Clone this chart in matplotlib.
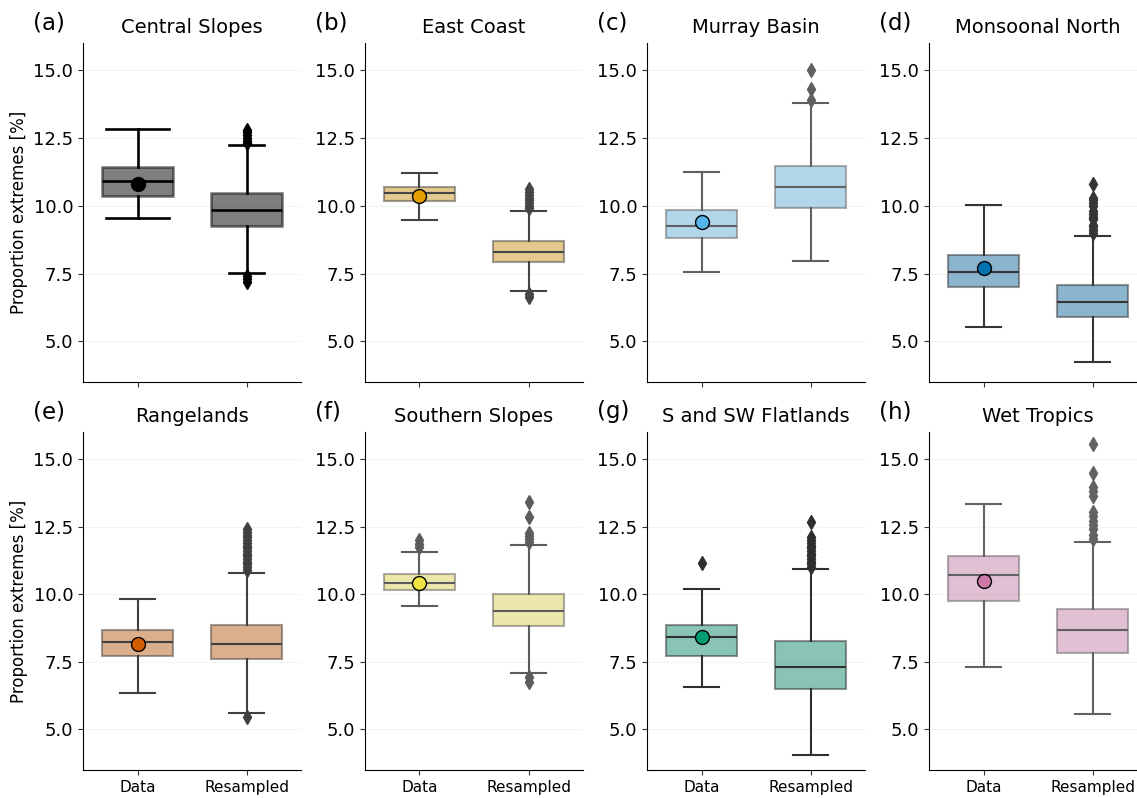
import colorsys
import matplotlib
matplotlib.use('Agg')
import matplotlib.pyplot as plt
import matplotlib.colors as mcolors

regions = ['Central Slopes', 'East Coast', 'Murray Basin', 'Monsoonal North',
           'Rangelands', 'Southern Slopes', 'S and SW Flatlands', 'Wet Tropics']
panel_labels = ['(a)', '(b)', '(c)', '(d)', '(e)', '(f)', '(g)', '(h)']
colors = ['#000000', '#E69F00', '#56B4E9', '#0072B2',
          '#D55E00', '#F0E442', '#009E73', '#CC79A7']
groups = ['Data', 'Resampled']

# box statistics: [Data, Resampled]
q1 = [[10.34, 9.24], [10.16, 7.92], [8.80, 9.93], [7.02, 5.89],
      [7.71, 7.59], [10.17, 8.83], [7.71, 6.51], [9.74, 7.81]]
median = [[10.90, 9.85], [10.47, 8.28], [9.25, 10.70], [7.57, 6.44],
          [8.24, 8.16], [10.43, 9.39], [8.43, 7.32], [10.72, 8.67]]
q3 = [[11.43, 10.47], [10.68, 8.69], [9.83, 11.47], [8.19, 7.09],
      [8.67, 8.87], [10.75, 10.02], [8.88, 8.28], [11.41, 9.45]]
whislo = [[9.56, 7.52], [9.47, 6.84], [7.55, 7.96], [5.52, 4.22],
          [6.36, 5.60], [9.57, 7.08], [6.57, 4.07], [7.32, 5.58]]
whishi = [[12.84, 12.23], [11.22, 9.80], [11.24, 13.80], [10.01, 8.90],
          [9.82, 10.80], [11.56, 11.81], [10.18, 10.92], [13.34, 11.94]]
fliers = [
    [[], [12.3, 12.4, 12.5, 12.6, 12.7, 12.8, 7.4, 7.3, 7.2]],
    [[], [9.9, 10.0, 10.1, 10.2, 10.3, 10.4, 10.5, 10.6, 6.75, 6.65]],
    [[], [13.9, 14.3, 15.0]],
    [[], [9.0, 9.1, 9.2, 9.3, 9.5, 9.6, 9.7, 9.8, 10.0, 10.1, 10.2, 10.3, 10.8]],
    [[], [10.9, 11.0, 11.1, 11.2, 11.3, 11.4, 11.5, 11.6, 11.7, 11.8, 11.9,
          12.0, 12.1, 12.2, 12.3, 12.4, 5.45]],
    [[11.75, 11.85, 12.0], [11.95, 12.05, 12.15, 12.25, 12.85, 13.4, 6.95, 6.75]],
    [[11.16], [11.0, 11.1, 11.2, 11.3, 11.4, 11.5, 11.6, 11.7, 11.8, 11.9,
                12.0, 12.1, 12.67]],
    [[], [12.05, 12.2, 12.4, 12.55, 12.7, 12.9, 13.05, 13.65, 13.8, 13.95,
          14.47, 15.55]],
]
data_mean = [10.81, 10.34, 9.40, 7.70, 8.16, 10.43, 8.43, 10.49]


def line_gray(color):
    r, g, b = mcolors.to_rgb(color)
    lum = colorsys.rgb_to_hls(r, g, b)[1] * 0.6
    return (lum, lum, lum)


def desaturate(color, prop=0.75):
    h, l, s = colorsys.rgb_to_hls(*mcolors.to_rgb(color))
    return colorsys.hls_to_rgb(h, l, s * prop)


W, H = 1137, 798
fig = plt.figure(figsize=(W / 100, H / 100), dpi=100)

lefts = [83, 365, 647, 929]
rows = [(43, 382), (432, 770)]
ax_w = 218

for i, name in enumerate(regions):
    row, col = divmod(i, 4)
    top, bottom = rows[row]
    ax = fig.add_axes([lefts[col] / W, 1 - bottom / H, ax_w / W, (bottom - top) / H])

    color = colors[i]
    face = desaturate(color)
    gray = line_gray(color)
    lw = 1.9 if i == 0 else 1.5

    stats = []
    for j in range(2):
        stats.append(dict(med=median[i][j], q1=q1[i][j], q3=q3[i][j],
                          whislo=whislo[i][j], whishi=whishi[i][j],
                          fliers=fliers[i][j], label=groups[j]))

    caps = [0.58, 0.33] if i == 0 else [0.33, 0.33]
    ax.bxp(stats, positions=[0, 1], widths=0.66, capwidths=caps,
           patch_artist=True, showfliers=True,
           boxprops=dict(facecolor=face, edgecolor=gray, lw=lw, alpha=0.5),
           medianprops=dict(color=gray, lw=lw),
           whiskerprops=dict(color=gray, lw=lw),
           capprops=dict(color=gray, lw=lw),
           flierprops=dict(marker='d', markersize=7, markerfacecolor=gray,
                           markeredgecolor=gray))

    ax.plot(0, data_mean[i], 'o', markersize=10, markerfacecolor=color,
            markeredgecolor='black', markeredgewidth=1.0, zorder=5)

    ax.set_xlim(-0.5, 1.5)
    ax.set_ylim(3.5, 16.0)
    ax.set_yticks([5.0, 7.5, 10.0, 12.5, 15.0])
    ax.set_yticklabels(['5.0', '7.5', '10.0', '12.5', '15.0'])
    ax.set_xticks([0, 1])
    if row == 0:
        ax.set_xticklabels([])
    else:
        ax.set_xticklabels(groups)
    ax.tick_params(axis='y', labelsize=13, color='#333333')
    ax.tick_params(axis='x', labelsize=11, color='#333333')
    ax.yaxis.grid(True, color='#f3f3f3', lw=0.8)
    ax.set_axisbelow(True)
    ax.spines['top'].set_visible(False)
    ax.spines['right'].set_visible(False)

    ax.set_title(name, fontsize=14, pad=7)
    ax.text(-0.23, 1.06, panel_labels[i], transform=ax.transAxes,
            fontsize=16.5, ha='left', va='center')
    if col == 0:
        ax.set_ylabel('Proportion extremes [%]', fontsize=12)

plt.savefig('out.png', dpi=100)
